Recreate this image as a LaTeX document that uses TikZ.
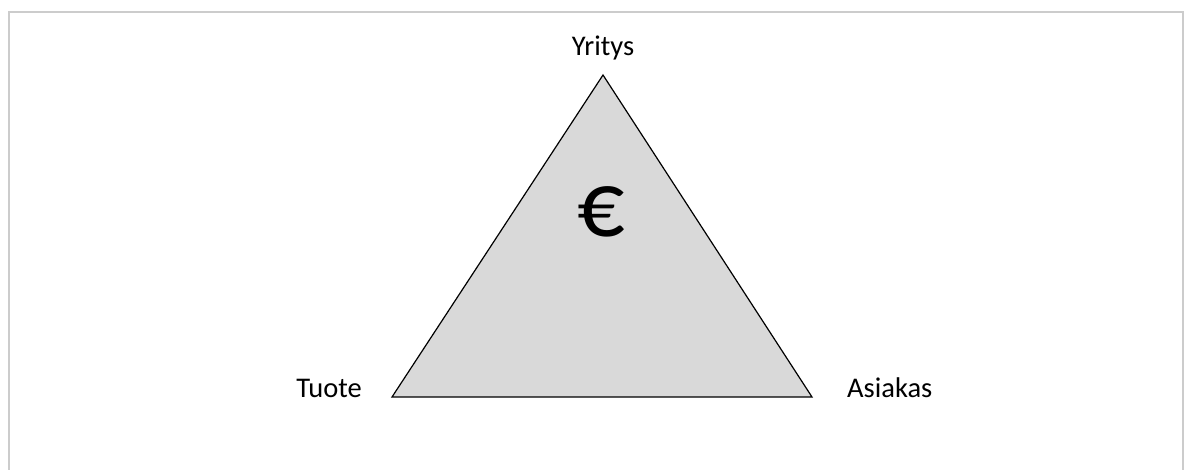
\documentclass[tikz,border=0pt]{standalone}
\usepackage{fontspec}
\setmainfont{Carlito}
\begin{document}
\begin{tikzpicture}[x=1pt,y=-1pt,
  lbl/.style={font=\fontsize{28.5}{30}\selectfont, inner sep=0pt},
  tri/.style={draw=black, fill=black!15, line width=1.2pt, line join=miter}]
\useasboundingbox (0,0) rectangle (1190,469);
\draw[black!20, line width=1.2pt] (9,480) -- (9,12) -- (1183,12) -- (1183,480);
\coordinate (top) at (603,75);
\coordinate (bl) at (392,397);
\coordinate (br) at (812,397);
\draw[tri] (top) -- (bl) -- (br) -- cycle;
\node[lbl, anchor=base] (yritys) at (603,55) {Yritys};
\node[lbl, anchor=base east] (tuote) at (362,397) {Tuote};
\node[lbl, anchor=base west] (asiakas) at (847,397) {Asiakas};
\node[inner sep=0pt, anchor=base, font=\fontsize{94}{100}\selectfont] (euro) at (601,236) {€};
\end{tikzpicture}
\end{document}
